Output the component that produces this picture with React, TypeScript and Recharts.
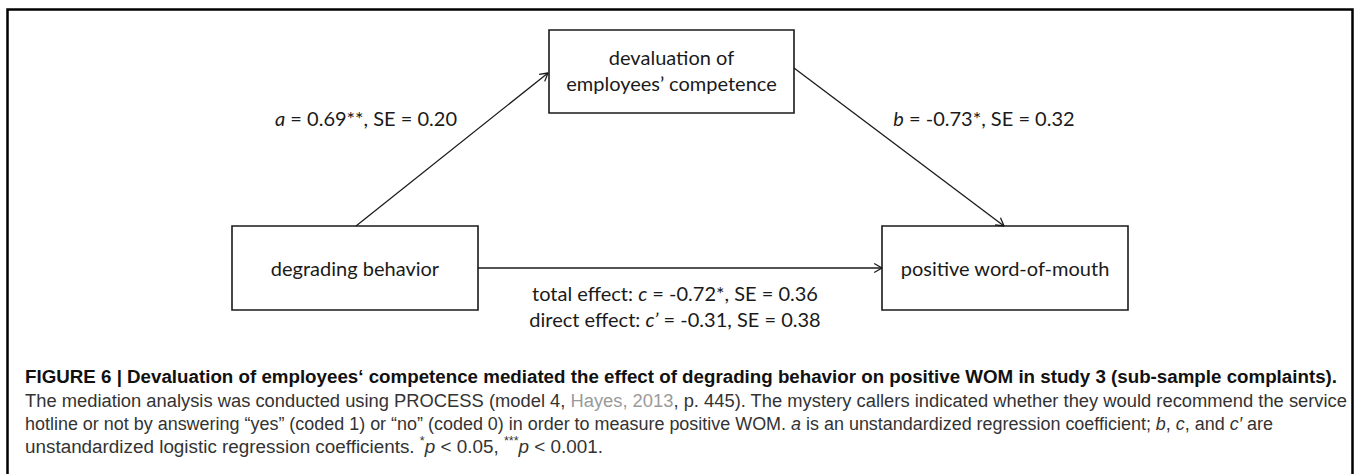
import React from 'react';
import { ScatterChart, XAxis, YAxis, ReferenceArea, ReferenceLine, Scatter } from 'recharts';

const WIDTH = 1360;
const HEIGHT = 474;

// ---------- data ----------
const nodeLines: string[][] = [
  ['degrading behavior'],
  ['devaluation of', 'employees’ competence'],
  ['positive word-of-mouth'],
];
const pathPrefixes = ['', '', 'total effect: ', 'direct effect: '];
const pathSymbols = ['a', 'b', 'c', 'c’'];
const pathCoefficients = [0.69, -0.73, -0.72, -0.31];
const pathStars = ['**', '*', '*', ''];
const pathSE = [0.2, 0.32, 0.36, 0.38];

type Seg = { t: string; b?: boolean; i?: boolean; g?: boolean; sup?: boolean };
const captionLines: Seg[][] = [
  [{ t: 'FIGURE 6 | Devaluation of employees‘ competence mediated the effect of degrading behavior on positive WOM in study 3 (sub-sample complaints).', b: true }],
  [
    { t: 'The mediation analysis was conducted using PROCESS (model 4, ' },
    { t: 'Hayes, 2013', g: true },
    { t: ', p. 445). The mystery callers indicated whether they would recommend the service' },
  ],
  [
    { t: 'hotline or not by answering “yes” (coded 1) or “no” (coded 0) in order to measure positive WOM. ' },
    { t: 'a', i: true },
    { t: ' is an unstandardized regression coefficient; ' },
    { t: 'b', i: true },
    { t: ', ' },
    { t: 'c', i: true },
    { t: ', and ' },
    { t: 'c′', i: true },
    { t: ' are' },
  ],
  [
    { t: 'unstandardized logistic regression coefficients. ' },
    { t: '*', sup: true },
    { t: 'p', i: true },
    { t: ' < 0.05, ' },
    { t: '***', sup: true },
    { t: 'p', i: true },
    { t: ' < 0.001.' },
  ],
];

// ---------- layout ----------
const nodeBoxes = [
  { x1: 232, x2: 478, y1: 226, y2: 310 },
  { x1: 549, x2: 794, y1: 30, y2: 113 },
  { x1: 882, x2: 1128, y1: 226, y2: 310 },
];
const nodeTextOffsetY = [0, -1.5, 0];
const arrowPaths = [
  { from: { x: 356, y: 226 }, to: { x: 548, y: 73 } },
  { from: { x: 794, y: 68 }, to: { x: 1004, y: 226 } },
  { from: { x: 478, y: 268 }, to: { x: 882, y: 268 } },
];
const pathLabelAnchors = [
  { x: 366, y: 118 },
  { x: 984, y: 118 },
  { x: 675, y: 293 },
  { x: 675, y: 319 },
];
const captionX = 25;
const captionYs = [377, 401, 424, 447];
const captionWidths = [1312, 1322, 1248, 578];
const frame = { x1: 7.5, x2: 1352.5, y1: 9.5, y2: 500 };

const DIAGRAM_FONT = 'Lato, "Open Sans", sans-serif';
const DIAGRAM_SIZE = 20;
const CAPTION_FONT = '"Liberation Sans", Arial, sans-serif';
const CAPTION_SIZE = 18;
const INK = '#1a1a1a';

// arrowhead wings, derived from arrow direction
const HEAD_LEN = 9;
const HEAD_ANGLE = (30 * Math.PI) / 180;
const arrowWings = arrowPaths.flatMap((p) => {
  const dx = p.to.x - p.from.x;
  const dy = p.to.y - p.from.y;
  const len = Math.hypot(dx, dy);
  const ux = dx / len;
  const uy = dy / len;
  return [HEAD_ANGLE, -HEAD_ANGLE].map((a) => {
    const rx = ux * Math.cos(a) - uy * Math.sin(a);
    const ry = ux * Math.sin(a) + uy * Math.cos(a);
    return [p.to, { x: p.to.x - HEAD_LEN * rx, y: p.to.y - HEAD_LEN * ry }];
  });
});

const labelData = [
  ...nodeLines.map((_, i) => ({
    kind: 'node',
    idx: i,
    x: (nodeBoxes[i].x1 + nodeBoxes[i].x2) / 2,
    y: (nodeBoxes[i].y1 + nodeBoxes[i].y2) / 2 + nodeTextOffsetY[i],
  })),
  ...pathSymbols.map((_, i) => ({ kind: 'path', idx: i, x: pathLabelAnchors[i].x, y: pathLabelAnchors[i].y })),
  ...captionLines.map((_, i) => ({ kind: 'caption', idx: i, x: captionX, y: captionYs[i] })),
];

const renderLabel = (props: any) => {
  const { cx, cy, payload } = props;
  if (cx == null || cy == null || !payload) return <g />;
  const { kind, idx } = payload;
  if (kind === 'node') {
    const lines = nodeLines[idx];
    const lh = 26;
    const start = cy - ((lines.length - 1) * lh) / 2;
    return (
      <g>
        {lines.map((l, j) => (
          <text
            key={j}
            x={cx}
            y={start + j * lh}
            textAnchor="middle"
            dominantBaseline="central"
            fontFamily={DIAGRAM_FONT}
            fontSize={DIAGRAM_SIZE}
            fill={INK}
          >
            {l}
          </text>
        ))}
      </g>
    );
  }
  if (kind === 'path') {
    const rest = ` = ${pathCoefficients[idx].toFixed(2)}${pathStars[idx]}, SE = ${pathSE[idx].toFixed(2)}`;
    return (
      <text
        x={cx}
        y={cy}
        textAnchor="middle"
        dominantBaseline="central"
        fontFamily={DIAGRAM_FONT}
        fontSize={DIAGRAM_SIZE}
        fill={INK}
      >
        {pathPrefixes[idx] ? <tspan>{pathPrefixes[idx]}</tspan> : null}
        <tspan fontStyle="italic">{pathSymbols[idx]}</tspan>
        <tspan>{rest}</tspan>
      </text>
    );
  }
  const segs = captionLines[idx];
  const parts: React.ReactNode[] = [];
  let raised = false;
  segs.forEach((s, j) => {
    let dy: number | undefined = undefined;
    if (s.sup && !raised) {
      dy = -6;
      raised = true;
    } else if (!s.sup && raised) {
      dy = 6;
      raised = false;
    }
    parts.push(
      <tspan
        key={j}
        dy={dy}
        fontWeight={s.b ? 'bold' : 'normal'}
        fontStyle={s.i ? 'italic' : 'normal'}
        fill={s.g ? '#9a9a9a' : s.b ? '#111' : '#333'}
        fontSize={s.sup ? 12 : CAPTION_SIZE}
      >
        {s.t}
      </tspan>
    );
  });
  return (
    <text
      x={cx}
      y={cy}
      dominantBaseline="central"
      fontFamily={CAPTION_FONT}
      fontSize={CAPTION_SIZE}
      textLength={captionWidths[idx]}
      lengthAdjust="spacingAndGlyphs"
      xmlSpace="preserve"
    >
      {parts}
    </text>
  );
};

export default function App() {
  return (
    <div style={{ position: 'absolute', left: 0, top: 0, width: WIDTH, height: HEIGHT, background: '#fff' }}>
      <ScatterChart width={WIDTH} height={HEIGHT} margin={{ top: 0, right: 0, bottom: 0, left: 0 }}>
        <XAxis type="number" dataKey="x" domain={[0, WIDTH]} allowDataOverflow hide />
        <YAxis type="number" dataKey="y" domain={[0, HEIGHT]} allowDataOverflow reversed hide />
        <ReferenceArea
          x1={frame.x1}
          x2={frame.x2}
          y1={frame.y1}
          y2={frame.y2}
          fill="none"
          stroke="#000"
          strokeWidth={2.5}
          ifOverflow="visible"
        />
        {nodeBoxes.map((b, i) => (
          <ReferenceArea
            key={`box${i}`}
            x1={b.x1}
            x2={b.x2}
            y1={b.y1}
            y2={b.y2}
            fill="#fff"
            fillOpacity={1}
            stroke={INK}
            strokeWidth={1.6}
            ifOverflow="visible"
          />
        ))}
        {arrowPaths.map((p, i) => (
          <ReferenceLine
            key={`arr${i}`}
            segment={[p.from, p.to]}
            stroke={INK}
            strokeWidth={1.3}
            ifOverflow="visible"
          />
        ))}
        {arrowWings.map((w, i) => (
          <ReferenceLine
            key={`wing${i}`}
            segment={w as any}
            stroke={INK}
            strokeWidth={1.3}
            ifOverflow="visible"
          />
        ))}
        <Scatter data={labelData} shape={renderLabel} isAnimationActive={false} />
      </ScatterChart>
    </div>
  );
}
